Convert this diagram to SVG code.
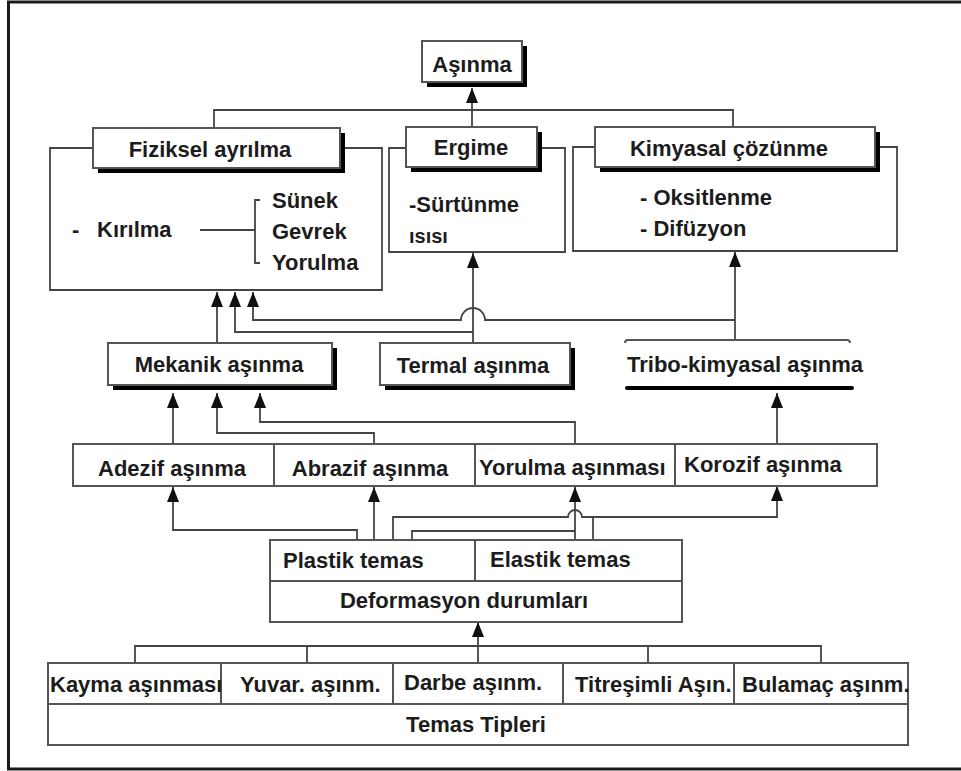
<svg xmlns="http://www.w3.org/2000/svg" width="961" height="771" viewBox="0 0 961 771">
<defs>
<style>
.t{font-family:"Liberation Sans",Arial,sans-serif;font-weight:bold;font-size:22px;fill:#1c1c1c}
.m{text-anchor:middle}
.box{fill:#fff;stroke:#555;stroke-width:2}
.sh{fill:#000}
.c{fill:none;stroke:#444;stroke-width:1.8}
.ca{fill:none;stroke:#444;stroke-width:1.8;marker-end:url(#ah)}
</style>
<marker id="ah" viewBox="0 0 15 12" refX="15" refY="6" markerWidth="15" markerHeight="12" markerUnits="userSpaceOnUse" orient="auto">
<path d="M0,0 L15,6 L0,12 z" fill="#111"/>
</marker>
</defs>
<rect width="961" height="771" fill="#fff"/>
<rect x="8.5" y="2" width="960" height="767" fill="none" stroke="#1a1a1a" stroke-width="3"/>

<g id="connectors">
<path class="c" d="M214,128 V110 H733 V127"/>
<path class="ca" d="M472,127 V88"/>
<path class="ca" d="M473,343 V253"/>
<path class="ca" d="M473,332 H235 V292"/>
<path class="ca" d="M735,340 V252"/>
<path class="ca" d="M735,320 H485 A12,12 0 0 0 461,320 H253 V292"/>
<path class="ca" d="M217,343 V292"/>
<path class="ca" d="M173,444 V393"/>
<path class="ca" d="M374,444 V433 H217 V393"/>
<path class="ca" d="M575,444 V422 H260 V393"/>
<path class="ca" d="M777,444 V393"/>
<path class="ca" d="M357,540 V530 H173 V487"/>
<path class="ca" d="M374,540 V487"/>
<path class="ca" d="M393,540 V517 H568 A7,7 0 0 1 582,517 H777 V486"/>
<path class="c" d="M412,540 V531 H575"/>
<path class="ca" d="M575,540 V487"/>
<path class="c" d="M593,540 V517"/>
<path class="c" d="M135,663 V646 H821 V663 M307,646 V663 M648,646 V663"/>
<path class="ca" d="M478,663 V622"/>
<path class="c" d="M200,230 H255 M260,200 H255 V263 H260"/>
</g>

<g id="asinma">
<rect class="sh" x="427" y="46" width="100" height="41"/>
<rect class="box" x="422" y="41" width="100" height="41"/>
<text class="t m" x="472" y="72">Aşınma</text>
</g>

<g id="fiziksel">
<path class="c" d="M93,148 H50 V290 H382 V148 H343" stroke="#555" stroke-width="2"/>
<rect class="sh" x="98" y="133" width="247" height="40"/>
<rect class="box" x="93" y="128" width="247" height="40"/>
<text class="t m" x="210" y="157">Fiziksel ayrılma</text>
<text class="t" x="72" y="237">-<tspan x="97">Kırılma</tspan></text>
<text class="t" x="272" y="208">Sünek</text>
<text class="t" x="272" y="239">Gevrek</text>
<text class="t" x="272" y="270">Yorulma</text>
</g>

<g id="ergime">
<path class="c" d="M406,148 H389 V252 H565 V148 H542" stroke="#555" stroke-width="2"/>
<rect class="sh" x="411" y="132" width="131" height="40"/>
<rect class="box" x="406" y="127" width="131" height="40"/>
<text class="t m" x="471" y="155">Ergime</text>
<text class="t" x="409" y="212">-Sürtünme</text>
<text class="t" x="409" y="243" style="font-size:20px">ısısı</text>
</g>

<g id="kimyasal">
<path class="c" d="M595,147 H573 V251 H897 V147 H880" stroke="#555" stroke-width="2"/>
<rect class="sh" x="600" y="132" width="280" height="40"/>
<rect class="box" x="595" y="127" width="280" height="40"/>
<text class="t m" x="729" y="156">Kimyasal çözünme</text>
<text class="t" x="640" y="205">- Oksitlenme</text>
<text class="t" x="640" y="236">- Difüzyon</text>
</g>

<g id="mekanik">
<rect class="sh" x="113" y="348" width="224" height="42"/>
<rect class="box" x="108" y="343" width="224" height="42"/>
<text class="t m" x="219" y="372">Mekanik aşınma</text>
</g>

<g id="termal">
<rect class="sh" x="385" y="348" width="190" height="42"/>
<rect class="box" x="380" y="343" width="190" height="42"/>
<text class="t m" x="473" y="373">Termal aşınma</text>
</g>

<g id="tribo">
<path d="M625,343 Q625,340 628,340 H847 Q850,340 850,343" fill="none" stroke="#555" stroke-width="2"/>
<line x1="627" y1="388" x2="852" y2="388" stroke="#000" stroke-width="4" stroke-linecap="round"/>
<text class="t m" x="745" y="372">Tribo-kimyasal aşınma</text>
</g>

<g id="asinma-turleri">
<rect class="box" x="73" y="444" width="804" height="42"/>
<path d="M274,444 V486 M475,444 V486 M675,444 V486" stroke="#555" stroke-width="2"/>
<text class="t m" x="172" y="476">Adezif aşınma</text>
<text class="t m" x="370" y="476">Abrazif aşınma</text>
<text class="t" x="479" y="475">Yorulma aşınması</text>
<text class="t" x="684" y="472">Korozif aşınma</text>
</g>

<g id="deformasyon">
<rect class="box" x="270" y="540" width="412" height="82"/>
<path d="M270,581 H682 M475,540 V581" stroke="#555" stroke-width="2"/>
<text class="t" x="283" y="568">Plastik temas</text>
<text class="t" x="490" y="567">Elastik temas</text>
<text class="t m" x="464" y="608">Deformasyon durumları</text>
</g>

<g id="temas">
<rect class="box" x="48" y="663" width="860" height="82"/>
<path d="M48,704 H908 M221,663 V704 M393,663 V704 M563,663 V704 M734,663 V704" stroke="#555" stroke-width="2"/>
<text class="t" x="50" y="692">Kayma aşınması</text>
<text class="t" x="240" y="692">Yuvar. aşınm.</text>
<text class="t" x="404" y="690">Darbe aşınm.</text>
<text class="t" x="575" y="692">Titreşimli Aşın.</text>
<text class="t" x="742" y="692">Bulamaç aşınm.</text>
<text class="t m" x="476" y="732">Temas Tipleri</text>
</g>
</svg>
